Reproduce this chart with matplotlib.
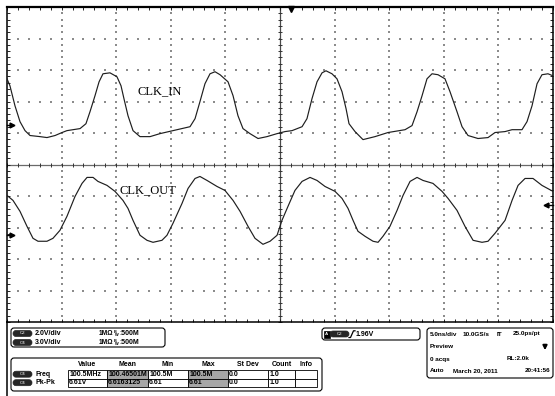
import matplotlib.pyplot as plt
import numpy as np
from matplotlib.patches import FancyBboxPatch, Rectangle

plt.rcParams['font.family'] = ['Liberation Sans', 'DejaVu Sans']

# scope settings
NS_PER_DIV = 5.0
C2_VDIV = 2.0
C4_VDIV = 3.0
C2_POS = 1.24     # ground marker, divisions above centre
C4_POS = -2.24
TRIG_POS_NS = 26.0
TRIG_MARK_DIV = -1.27

# CLK_IN (C2), time in ns, volts
clk_in_t = [0.0, 0.27, 0.73, 1.19, 1.65, 2.11, 3.02, 3.66, 4.40, 5.04, 5.49, 6.69,
            7.23, 7.60, 8.06, 8.43, 8.79, 9.43, 10.07, 10.44, 10.71, 11.08, 11.54,
            12.18, 13.10, 14.01, 15.20, 16.76, 17.22, 17.67, 18.13, 18.59, 19.05,
            19.51, 20.24, 20.70, 21.15, 21.61, 22.25, 22.99, 23.81, 24.73, 25.46,
            26.10, 27.02, 27.47, 27.93, 28.39, 28.85, 29.21, 29.76, 30.22, 30.68,
            31.05, 31.32, 31.87, 32.60, 33.70, 34.89, 36.45, 37.09, 37.55, 38.01,
            38.46, 38.92, 39.47, 40.11, 40.57, 41.21, 41.67, 42.22, 43.13, 44.05,
            44.69, 45.61, 46.25, 47.16, 47.62, 48.08, 48.54, 48.99, 49.54, 50.0]
clk_in_v = [2.96, 2.52, 1.25, 0.24, -0.33, -0.64, -0.71, -0.77, -0.64, -0.45, -0.33, -0.20,
            0.11, 0.87, 1.89, 2.77, 3.28, 3.34, 3.09, 2.52, 1.70, 0.62, -0.33,
            -0.71, -0.71, -0.52, -0.33, -0.08, 0.43, 1.51, 2.65, 3.28, 3.41,
            3.22, 2.77, 1.89, 0.62, -0.20, -0.52, -0.83, -0.71, -0.52, -0.39,
            -0.33, -0.08, 0.43, 1.70, 2.77, 3.34, 3.47, 3.28, 2.96, 2.14,
            1.06, 0.11, -0.39, -0.90, -0.71, -0.45, -0.27, -0.01, 0.87, 1.89,
            2.96, 3.28, 3.22, 2.96, 2.14, 0.87, -0.08, -0.64, -0.83, -0.77,
            -0.45, -0.39, -0.27, -0.27, 0.24, 1.25, 2.65, 3.22, 3.28, 3.15]

# CLK_OUT (C4)
clk_out_t = [0.0, 0.55, 1.19, 1.83, 2.38, 2.84, 3.66, 4.21, 4.85, 5.49, 6.23, 6.87,
             7.33, 7.88, 8.33, 9.16, 9.89, 10.62, 11.08, 11.54, 12.18, 12.82, 13.37,
             14.19, 14.65, 15.20, 16.03, 16.58, 17.22, 17.67, 18.32, 19.23, 19.96,
             20.70, 21.34, 22.07, 22.71, 23.44, 24.09, 24.73, 25.18, 25.73, 26.37,
             27.02, 27.75, 28.39, 29.12, 30.04, 30.68, 31.23, 31.69, 32.14, 32.79,
             33.52, 33.98, 34.43, 35.07, 35.72, 36.27, 36.91, 37.55, 38.10, 39.01,
             39.84, 40.39, 41.21, 41.94, 42.68, 43.50, 44.05, 44.69, 45.61, 46.25,
             46.80, 47.44, 48.17, 48.99, 50.0]
clk_out_v = [3.78, 3.30, 2.26, 0.83, -0.31, -0.59, -0.59, -0.31, 0.45, 1.78, 3.68, 4.92,
             5.49, 5.49, 5.11, 4.73, 4.16, 3.30, 2.54, 1.40, -0.02, -0.50, -0.69,
             -0.50, -0.02, 1.12, 3.02, 4.44, 5.39, 5.58, 5.20, 4.63, 4.25,
             3.30, 2.26, 0.83, -0.31, -0.88, -0.59, -0.02, 1.40, 2.73, 4.25,
             5.11, 5.49, 5.20, 4.63, 4.16, 3.49, 2.54, 1.40, 0.36, -0.12,
             -0.59, -0.69, -0.12, 0.83, 2.35, 3.78, 5.11, 5.49, 5.20, 4.92,
             4.16, 3.49, 2.35, 0.83, -0.50, -0.69, -0.59, 0.17, 1.40, 3.30,
             4.73, 5.39, 5.39, 4.73, 4.16]

# readout panel text
chan_names = ['C2', 'C4']
chan_scales = ['2.0V/div', '3.0V/div']
meas_cols = ['Value', 'Mean', 'Min', 'Max', 'St Dev', 'Count', 'Info']
meas_rows = ['Freq', 'Pk-Pk']
meas_freq = ['100.5MHz', '100.46501M', '100.5M', '100.5M', '0.0', '1.0', '']
meas_pkpk = ['6.61V', '6.6163125', '6.61', '6.61', '0.0', '1.0', '']
trig_text = '1.96V'
tb_line1 = ['5.0ns/div', '10.0GS/s', 'IT', '25.0ps/pt']
tb_line3 = ['0 acqs', 'RL:2.0k']
tb_line4 = ['Auto', 'March 20, 2011', '20:41:56']

fig = plt.figure(figsize=(5.55, 3.96), dpi=100)
fig.patch.set_facecolor('white')

# ---- graticule ----
ax = fig.add_axes([7/555, 1-322/396, 546/555, 315/396])
xmax = 10 * NS_PER_DIV
ax.set_xlim(0, xmax)
ax.set_ylim(-5, 5)

minor_x = np.arange(0, xmax + 0.01, NS_PER_DIV / 5)
minor_y = np.arange(-5, 5.01, 0.2)
for gy in [-4, -3, -2, -1, 1, 2, 3, 4]:
    ax.scatter(minor_x[1:-1], np.full(len(minor_x) - 2, gy), s=0.6, marker='s',
               color='#8c8c8c', lw=0, zorder=1)
for gx in [5, 10, 15, 20, 30, 35, 40, 45]:
    ax.scatter(np.full(len(minor_y) - 2, gx), minor_y[1:-1], s=0.6, marker='s',
               color='#8c8c8c', lw=0, zorder=1)

ax.axhline(0, color='#6a6a6a', lw=0.9, zorder=1)
ax.axvline(xmax / 2, color='#4a4a4a', lw=0.9, zorder=1)
ax.plot(minor_x, np.zeros_like(minor_x), ls='none', marker='|', ms=3.5, mew=0.7,
        color='#333333', zorder=1)
ax.plot(np.full_like(minor_y, xmax / 2), minor_y, ls='none', marker='_', ms=3.5,
        mew=0.7, color='#333333', zorder=1)

ax.set_xticks(minor_x)
ax.set_yticks(minor_y)
ax.tick_params(direction='in', length=2.3, width=0.7, color='#222222',
               top=True, right=True, labelbottom=False, labelleft=False)
for side, sp in ax.spines.items():
    sp.set_color('black')
    sp.set_linewidth(1.1)
ax.spines['top'].set_linewidth(1.6)

# traces
ax.plot(clk_in_t, np.array(clk_in_v) / C2_VDIV + C2_POS, color='#1e1e1e', lw=0.85, zorder=3)
ax.plot(clk_out_t, np.array(clk_out_v) / C4_VDIV + C4_POS, color='#1e1e1e', lw=0.85, zorder=3)

# markers
for pos in [C2_POS, C4_POS]:
    ax.plot([0.45], [pos], marker='>', ms=3.5, color='black', clip_on=False, zorder=4)
    ax.plot([0, 0.3], [pos, pos], color='black', lw=1.0, clip_on=False, zorder=4)
ax.plot([TRIG_POS_NS], [4.93], marker='v', ms=4.5, color='black', clip_on=False, zorder=4)
ax.plot([xmax - 0.6], [TRIG_MARK_DIV], marker='<', ms=3.5, color='black', clip_on=False, zorder=4)
ax.plot([xmax - 0.6, xmax], [TRIG_MARK_DIV, TRIG_MARK_DIV], color='black', lw=1.0,
        clip_on=False, zorder=4)

# ---- overlay in pixel units ----
pan = fig.add_axes([0, 0, 1, 1])
pan.set_xlim(0, 555)
pan.set_ylim(396, 0)
pan.set_axis_off()

pan.text(138, 94, 'CLK_IN', family='Liberation Serif', fontsize=9, va='baseline')
pan.text(120, 193, 'CLK_OUT', family='Liberation Serif', fontsize=9, va='baseline')

pan.plot([7, 7], [322, 396], color='black', lw=1.1)

FS = 5.0


def rbox(x0, y0, x1, y1, r=3, fc='none', ec='black', lw=0.8):
    pan.add_patch(FancyBboxPatch((x0, y0), x1 - x0, y1 - y0,
                                 boxstyle=f'round,pad=0,rounding_size={r}',
                                 fc=fc, ec=ec, lw=lw))


def pill(xc, yc, label):
    rbox(xc - 9.5, yc - 3, xc + 9.5, yc + 3, r=3, fc='#262626', ec='#262626', lw=0.5)
    pan.text(xc, yc, label, color='#bbbbbb', fontsize=3.2, ha='center', va='center',
             fontweight='bold')


# channel box
rbox(11, 328, 165, 347)
for i, (nm, sc) in enumerate(zip(chan_names, chan_scales)):
    y = 333.5 + 9 * i
    pill(22.5, y, nm)
    pan.text(35, y, sc, fontsize=FS, fontweight='bold', va='center')
    pan.text(99, y, '1MΩ', fontsize=4.8, fontweight='bold', va='center')
    pan.text(113.5, y - 1.5, 'B', fontsize=2.8, fontweight='bold', va='center')
    pan.text(115.3, y + 1.2, 'W', fontsize=2.8, fontweight='bold', va='center')
    pan.text(119.5, y, ':500M', fontsize=FS, fontweight='bold', va='center')

# measurement table
rbox(11, 358, 322, 391)
edges = [68, 107, 148, 188, 228, 268, 295, 317]
for j, col in enumerate(meas_cols):
    pan.text((edges[j] + edges[j + 1]) / 2, 365, col, fontsize=FS, fontweight='bold',
             ha='center', va='center')
for i, (rname, vals) in enumerate(zip(meas_rows, [meas_freq, meas_pkpk])):
    y0 = 370 + 8.5 * i
    pill(22.5, y0 + 4.2, 'C4')
    pan.text(36, y0 + 4.2, rname, fontsize=FS, fontweight='bold', va='center')
    for j, val in enumerate(vals):
        fc = '#a6a6a6' if meas_cols[j] in ('Mean', 'Max') else 'white'
        pan.add_patch(Rectangle((edges[j], y0), edges[j + 1] - edges[j], 8.5,
                                fc=fc, ec='black', lw=0.6))
        pan.text(edges[j] + 1.2, y0 + 4.3, val, fontsize=FS, fontweight='bold', va='center')

# trigger box
rbox(322, 328, 420, 340)
pan.add_patch(Rectangle((323.5, 330.5), 6, 7, fc='black', ec='black', lw=0.5))
pan.text(326.5, 334, 'A', color='white', fontsize=3.2, ha='center', va='center',
         fontweight='bold')
pill(339.5, 334, 'C2')
pan.plot([349, 350.5, 353.5, 355], [337.5, 337.5, 330.8, 330.8], color='black', lw=0.9)
pan.text(356, 334, trig_text, fontsize=FS, fontweight='bold', va='center')

# timebase box
TB = 4.6
rbox(427, 328, 553, 378)
for x, s in zip([430, 463, 497, 513], tb_line1):
    pan.text(x, 334, s, fontsize=TB, fontweight='bold', va='center')
pan.text(430, 347, 'Preview', fontsize=TB, fontweight='bold', va='center')
pan.annotate('', xy=(545, 353), xytext=(545, 342),
             arrowprops=dict(arrowstyle='-|>', lw=1.4, color='black', mutation_scale=6))
pan.text(430, 359, tb_line3[0], fontsize=TB, fontweight='bold', va='center')
pan.text(507, 359, tb_line3[1], fontsize=TB, fontweight='bold', va='center')
pan.text(430, 371, tb_line4[0], fontsize=TB, fontweight='bold', va='center')
pan.text(453, 371, tb_line4[1], fontsize=TB, fontweight='bold', va='center')
pan.text(550, 371, tb_line4[2], fontsize=TB, fontweight='bold', va='center', ha='right')

fig.savefig('out.png', dpi=100)
